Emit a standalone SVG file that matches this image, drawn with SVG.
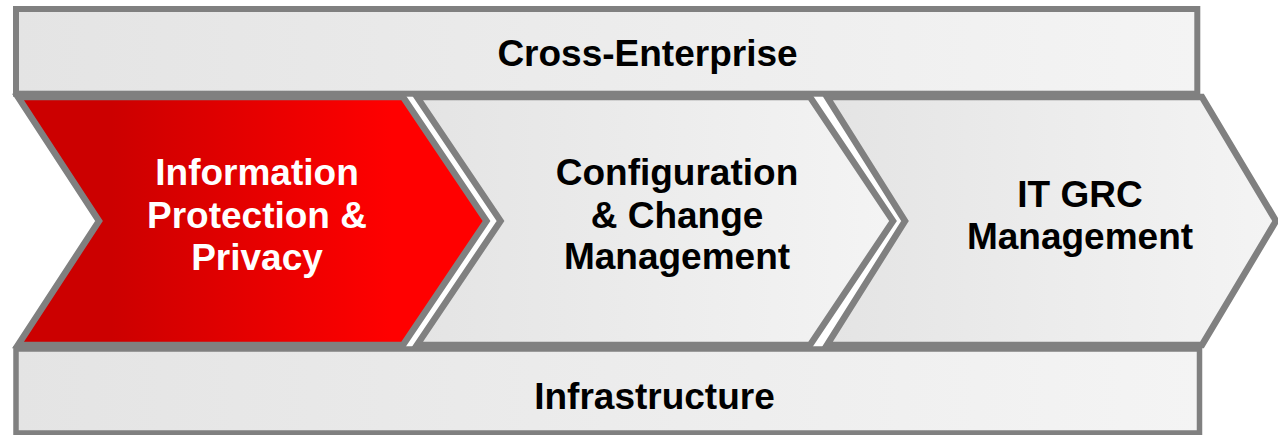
<svg xmlns="http://www.w3.org/2000/svg" width="1278" height="435" viewBox="0 0 1278 435">
<defs>
<linearGradient id="g" x1="0" y1="0" x2="1" y2="0"><stop offset="0" stop-color="#e4e4e4"/><stop offset="1" stop-color="#f4f4f4"/></linearGradient>
<linearGradient id="r" x1="0" y1="0" x2="1" y2="0"><stop offset="0.2" stop-color="#cc0000"/><stop offset="0.8" stop-color="#ff0000"/></linearGradient>
</defs>
<style>
.s{stroke:#808080;stroke-width:6;fill:url(#g)}
.c{stroke-width:6.5}
.t{font-family:"Liberation Sans",Arial,sans-serif;font-weight:700;font-size:37px;text-anchor:middle;fill:#000}
.w{fill:#fff}
</style>
<g id="cross-enterprise"><rect class="s" x="16" y="9" width="1181.3" height="84.7"/><text class="t" x="647.5" y="66">Cross-Enterprise</text></g>
<g id="infrastructure"><rect class="s" style="stroke-width:5.5" x="16" y="349" width="1183.5" height="84"/><text class="t" x="654.5" y="409">Infrastructure</text></g>
<g id="it-grc"><polygon class="s c" points="827,97 1202,97 1276,221 1202,345 827,345 905,221"/><text class="t" x="1080" y="207">IT GRC</text><text class="t" x="1080" y="249">Management</text></g>
<g id="config"><polygon class="s c" points="417,97 810,97 893,221 810,345 417,345 500.5,221"/><text class="t" x="677" y="185">Configuration</text><text class="t" x="677" y="228">&amp; Change</text><text class="t" x="677" y="269">Management</text></g>
<g id="info"><polygon class="s c" style="fill:url(#r)" points="18,97 403,97 486.5,221 403,345 18,345 99,221"/><text class="t w" x="257" y="185">Information</text><text class="t w" x="257" y="228">Protection &amp;</text><text class="t w" x="257" y="270">Privacy</text></g>
<g id="connectors"></g>
</svg>
